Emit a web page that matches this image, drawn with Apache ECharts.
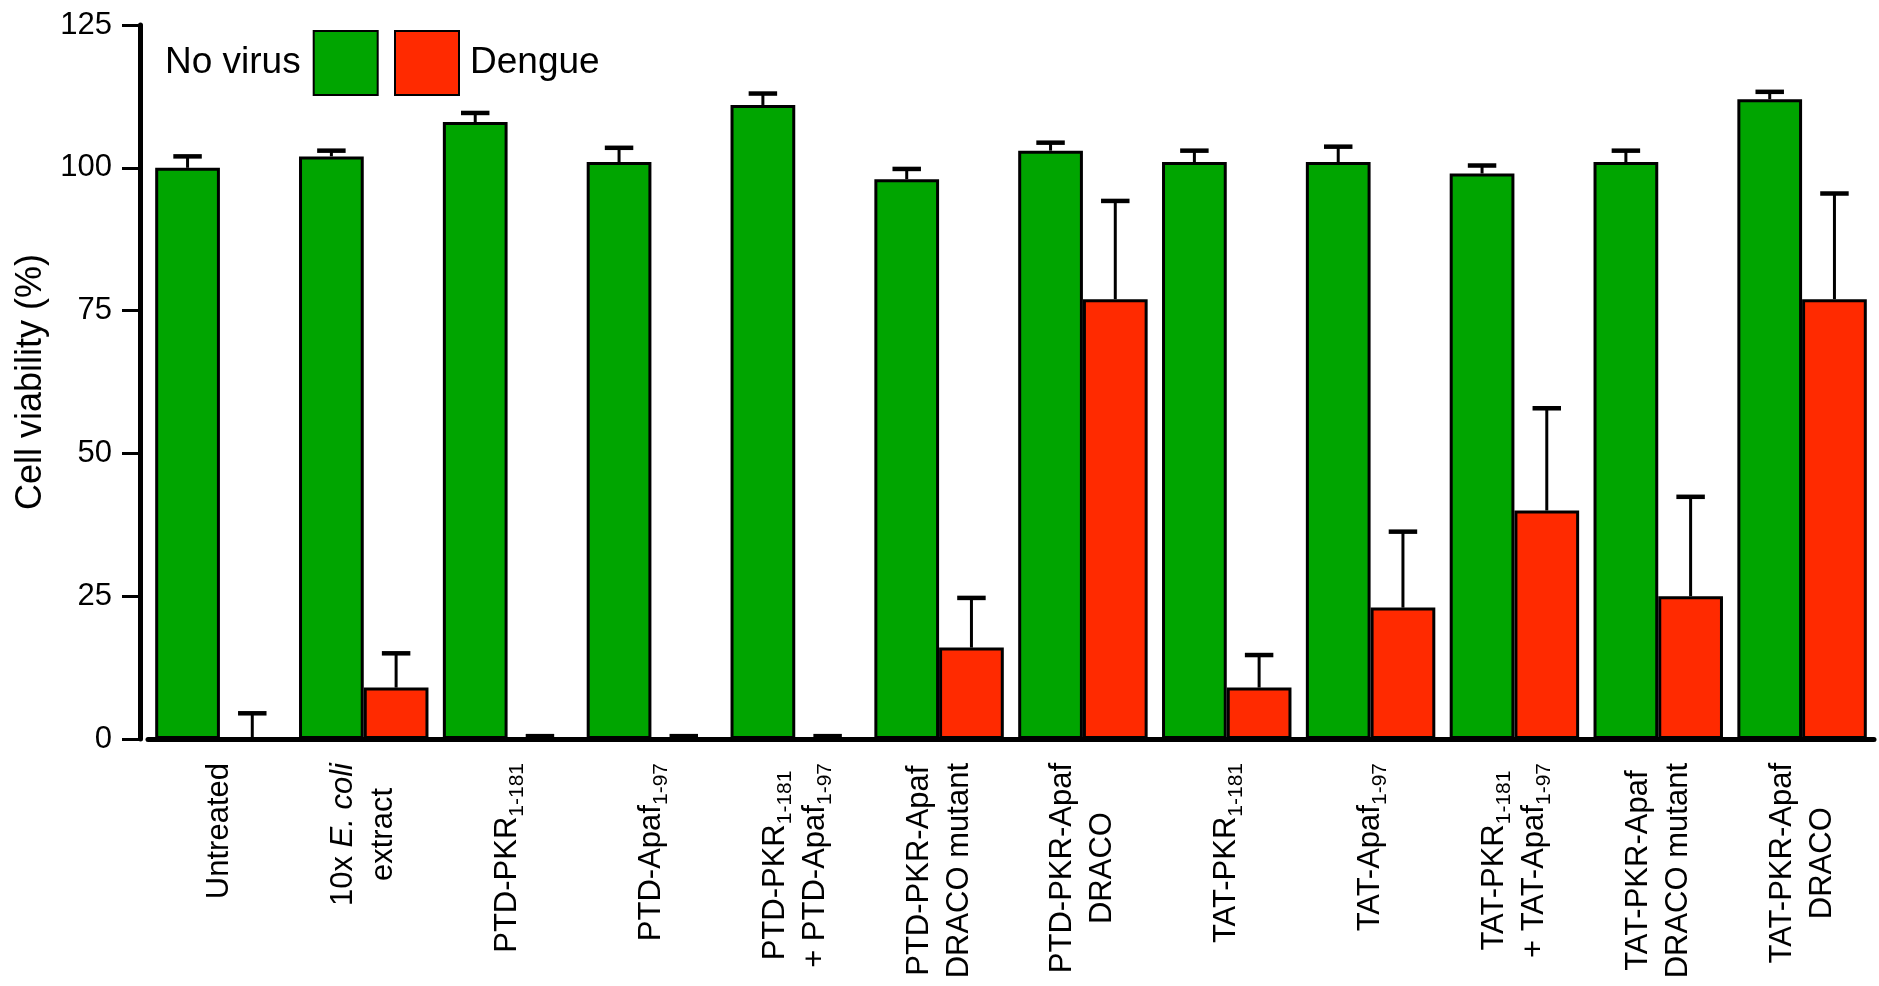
<!DOCTYPE html>
<html>
<head>
<meta charset="utf-8">
<script src="https://cdn.jsdelivr.net/npm/echarts@6/dist/echarts.min.js"></script>
<style>
html,body{margin:0;padding:0;background:#fff;}
#chart{width:1879px;height:986px;}
</style>
</head>
<body>
<div id="chart"></div>
<script>
// Category labels: "_{..}" = subscript, "*..*" = italic, "\n" = new line
const categories = [
  'Untreated',
  '10x *E. coli*\nextract',
  'PTD-PKR_{1-181}',
  'PTD-Apaf_{1-97}',
  'PTD-PKR_{1-181}\n+ PTD-Apaf_{1-97}',
  'PTD-PKR-Apaf\nDRACO mutant',
  'PTD-PKR-Apaf\nDRACO',
  'TAT-PKR_{1-181}',
  'TAT-Apaf_{1-97}',
  'TAT-PKR_{1-181}\n+ TAT-Apaf_{1-97}',
  'TAT-PKR-Apaf\nDRACO mutant',
  'TAT-PKR-Apaf\nDRACO'
];
const seriesNames = ['No virus', 'Dengue'];
const noVirus      = [100, 102, 108, 101, 111, 98, 103, 101, 101, 99, 101, 112];
const noVirusErrTop = [102, 103, 109.6, 103.5, 113, 99.8, 104.4, 103, 103.7, 100.4, 103, 113.3];
const dengue       = [0, 9, 0, 0, 0, 16, 77, 9, 23, 40, 25, 77];
const dengueErrTop = [4.5, 15, 0.5, 0.5, 0.5, 24.7, 94.2, 14.7, 36.3, 57.9, 42.4, 95.5];
const yTicks = [0, 25, 50, 75, 100, 125];

const GREEN = '#00A500';
const RED = '#FF2A00';
const FONT = "'Liberation Sans', Arial, Helvetica, sans-serif";

function toRich(label) {
  return label.split('\n').map(line => {
    let out = '';
    const re = /_\{([^}]*)\}|\*([^*]*)\*|([^_*]+)/g;
    let m;
    while ((m = re.exec(line)) !== null) {
      if (m[1] !== undefined) out += '{s|' + m[1] + '}';
      else if (m[2] !== undefined) out += '{i|' + m[2] + '}';
      else out += '{n|' + m[3] + '}';
    }
    return out;
  }).join('\n');
}

const chart = echarts.init(document.getElementById('chart'), null, {renderer: 'canvas'});

function errSeries(name, idx, values, tops) {
  return {
    type: 'custom',
    name: name + ' err',
    z: 5,
    silent: true,
    data: values.map((v, i) => [i, v, tops[i]]),
    renderItem: function (params, api) {
      const i = api.value(0);
      const catW = api.size([1, 0])[0];
      const barW = catW * 0.45;
      const base = api.coord([i, api.value(1)]);
      const top = api.coord([i, api.value(2)]);
      const x = base[0] + (idx === 0 ? -barW / 2 : barW / 2);
      const capHalf = barW * 0.22;
      return {
        type: 'group',
        children: [
          {type: 'line', shape: {x1: x, y1: base[1], x2: x, y2: top[1]},
           style: {stroke: '#000', lineWidth: 3}},
          {type: 'line', shape: {x1: x - capHalf, y1: top[1], x2: x + capHalf, y2: top[1]},
           style: {stroke: '#000', lineWidth: 4.5}}
        ]
      };
    }
  };
}

const option = {
  backgroundColor: '#fff',
  animation: false,
  textStyle: {fontFamily: FONT},
  grid: {left: 148, right: 5, top: 25, bottom: 247, containLabel: false, outerBoundsMode: 'none'},
  legend: [
    {
      data: [{name: seriesNames[0], icon: 'rect'}], left: 160, top: 25, align: 'right',
      itemWidth: 64, itemHeight: 64, itemGap: 0,
      textStyle: {fontSize: 37, color: '#000', fontFamily: FONT, padding: [0, 8, 0, 0]},
      selectedMode: false
    },
    {
      data: [{name: seriesNames[1], icon: 'rect'}], left: 389, top: 25, align: 'left',
      itemWidth: 64, itemHeight: 64, itemGap: 0,
      textStyle: {fontSize: 37, color: '#000', fontFamily: FONT, padding: [0, 0, 0, 6]},
      selectedMode: false
    }
  ],
  xAxis: {
    type: 'category',
    data: categories,
    axisLine: {show: true, lineStyle: {color: '#000', width: 5}},
    axisTick: {show: false},
    axisLabel: {
      interval: 0,
      rotate: 90,
      margin: 24,
      color: '#000',
      formatter: v => toRich(v),
      rich: {
        n: {fontSize: 31, lineHeight: 40, fontFamily: FONT, color: '#000', align: 'center'},
        i: {fontSize: 31, lineHeight: 40, fontFamily: FONT, fontStyle: 'italic', color: '#000', align: 'center'},
        s: {fontSize: 21, lineHeight: 21, fontFamily: FONT, color: '#000', align: 'center', verticalAlign: 'bottom'}
      }
    }
  },
  yAxis: {
    type: 'value',
    min: yTicks[0],
    max: yTicks[yTicks.length - 1],
    interval: 25,
    offset: 8,
    name: 'Cell viability (%)',
    nameLocation: 'middle',
    nameGap: 88,
    nameTextStyle: {fontSize: 36, color: '#000', fontFamily: FONT},
    axisLine: {show: true, lineStyle: {color: '#000', width: 5}},
    axisTick: {show: true, length: 18, lineStyle: {color: '#000', width: 3}},
    axisLabel: {fontSize: 31, color: '#000', margin: 28, fontFamily: FONT},
    splitLine: {show: false}
  },
  series: [
    {
      name: seriesNames[0], type: 'bar', data: noVirus,
      barGap: '0%', barCategoryGap: '10%',
      itemStyle: {color: GREEN, borderColor: '#000', borderWidth: 3}
    },
    {
      name: seriesNames[1], type: 'bar', data: dengue,
      barGap: '0%', barCategoryGap: '10%',
      itemStyle: {color: RED, borderColor: '#000', borderWidth: 3}
    },
    errSeries(seriesNames[0], 0, noVirus, noVirusErrTop),
    errSeries(seriesNames[1], 1, dengue, dengueErrTop)
  ]
};
chart.setOption(option);
</script>
</body>
</html>
